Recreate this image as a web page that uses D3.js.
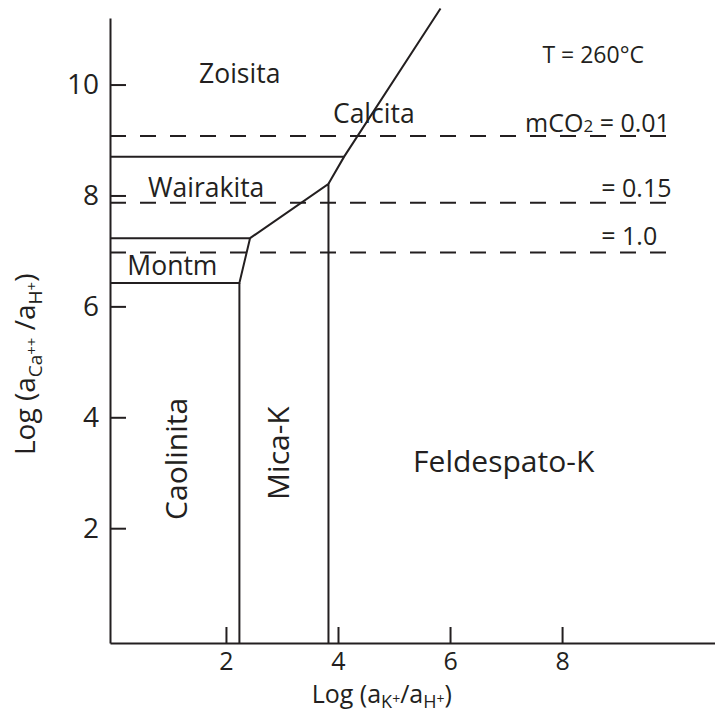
<!DOCTYPE html>
<html>
<head>
<meta charset="utf-8">
<script src="https://cdn.jsdelivr.net/npm/d3@7"></script>
<style>
  html, body { margin: 0; padding: 0; background: #fff; }
  svg { display: block; }
  text { font-family: 'Open Sans', 'Noto Sans', sans-serif; fill: #231f20; }
</style>
</head>
<body>
<svg id="chart" width="715" height="715"></svg>
<script>
// Axis extents (log activity ratios)
const xDomain = [-0.07, 10.73];
const yDomain = [-0.07, 11.2];
const xTickValues = [2, 4, 6, 8];
const yTickValues = [2, 4, 6, 8, 10];

// Phase boundaries, as polylines in (log aK+/aH+, log aCa++/aH+)
const boundaryCaolinitaMica = [[2.24, -0.07], [2.24, 6.42]];
const boundaryMontm = [[-0.07, 6.42], [2.24, 6.42], [2.43, 7.23], [-0.07, 7.23]];
const boundaryWairakitaMica = [[2.43, 7.23], [3.83, 8.21], [3.83, -0.07]];
const boundaryCalcita = [[3.83, 8.21], [4.11, 8.70], [5.83, 11.37]];
const boundaryZoisitaWairakita = [[-0.07, 8.70], [4.11, 8.70]];
const boundaries = [boundaryCaolinitaMica, boundaryMontm, boundaryWairakitaMica,
                    boundaryCalcita, boundaryZoisitaWairakita];

// Calcite saturation levels for different mCO2
const mco2Values = ["0.01", "0.15", "1.0"];
const mco2Levels = [9.07, 7.87, 6.97];
const mco2LineEnd = 9.93;

// Mineral field names
const fieldNames = ["Zoisita", "Calcita", "Wairakita", "Montm", "Caolinita", "Mica-K", "Feldespato-K"];

const ink = "#231f20";
const svg = d3.select("#chart");

const x = d3.scaleLinear().domain(xDomain).range([110, 715]);
const y = d3.scaleLinear().domain(yDomain).range([643, 18]);

// Label placement (data units) and style for each field name
const fieldLayout = {
  "Zoisita":      { at: [1.52, 10.02], size: 26.5, rotate: false },
  "Calcita":      { at: [3.91, 9.30],  size: 26.5, rotate: false },
  "Wairakita":    { at: [0.61, 7.98],  size: 26.5, rotate: false },
  "Montm":        { at: [0.24, 6.57],  size: 26.5, rotate: false },
  "Caolinita":    { at: [1.30, 2.15],  size: 30,   rotate: true },
  "Mica-K":       { at: [3.13, 2.51],  size: 30,   rotate: true },
  "Feldespato-K": { at: [5.34, 3.02],  size: 30,   rotate: false }
};

// Axes
const xAxis = d3.axisBottom(x).tickValues(xTickValues).tickFormat(d3.format("d"))
  .tickSizeInner(-16).tickSizeOuter(0).tickPadding(9);
const yAxis = d3.axisLeft(y).tickValues(yTickValues).tickFormat(d3.format("d"))
  .tickSizeInner(-16).tickSizeOuter(0).tickPadding(11);

const gx = svg.append("g").attr("transform", `translate(0,${y.range()[0]})`).call(xAxis);
const gy = svg.append("g").attr("transform", `translate(${x.range()[0]},0)`).call(yAxis);
[gx, gy].forEach(g => {
  g.select(".domain").attr("stroke", ink).attr("stroke-width", 2);
  g.selectAll(".tick line").attr("stroke", ink).attr("stroke-width", 2);
  g.selectAll(".tick text").attr("fill", ink)
    .style("font-family", "'Open Sans', sans-serif");
});
gx.selectAll(".tick text").style("font-size", "25px");
gy.selectAll(".tick text").style("font-size", "28px");

// Dashed mCO2 lines
svg.append("g").selectAll("line").data(mco2Levels).join("line")
  .attr("x1", x(xDomain[0])).attr("x2", x(mco2LineEnd))
  .attr("y1", d => y(d)).attr("y2", d => y(d))
  .attr("stroke", ink).attr("stroke-width", 2)
  .attr("stroke-dasharray", "16,14");

// Phase boundary lines
const line = d3.line().x(d => x(d[0])).y(d => y(d[1]));
svg.append("g").selectAll("path").data(boundaries).join("path")
  .attr("d", line).attr("fill", "none")
  .attr("stroke", ink).attr("stroke-width", 2).attr("stroke-linejoin", "miter");

// Field names
fieldNames.forEach(name => {
  const L = fieldLayout[name];
  const px = x(L.at[0]), py = y(L.at[1]);
  svg.append("text")
    .attr("transform", L.rotate ? `translate(${px},${py}) rotate(-90)` : `translate(${px},${py})`)
    .style("font-size", L.size + "px")
    .text(name);
});

// Temperature note
svg.append("text")
  .attr("x", x(7.65)).attr("y", y(10.39))
  .style("font-size", "23px")
  .text("T = 260°C");

// mCO2 labels
const mco2LabelAt = [[7.34, 9.15], [8.70, 7.98], [8.70, 7.10]];
mco2Values.forEach((v, i) => {
  const t = svg.append("text")
    .attr("x", x(mco2LabelAt[i][0])).attr("y", y(mco2LabelAt[i][1]))
    .style("font-size", "25px");
  if (i === 0) {
    t.append("tspan").text("mCO");
    t.append("tspan").style("font-size", "17px").text("2");
    t.append("tspan").text(" = " + v);
  } else {
    t.append("tspan").text("= " + v);
  }
});

// X axis title: Log (aK+/aH+)
const xt = svg.append("text")
  .attr("x", 311.7).attr("y", 703)
  .style("font-size", "25px");
xt.append("tspan").text("Log (a");
xt.append("tspan").attr("dy", 5).style("font-size", "18px").text("K");
xt.append("tspan").attr("dy", -4).style("font-size", "14px").text("+");
xt.append("tspan").attr("dy", -1).text("/a");
xt.append("tspan").attr("dy", 5).style("font-size", "18px").text("H");
xt.append("tspan").attr("dy", -4).style("font-size", "14px").text("+");
xt.append("tspan").attr("dy", -1).text(")");

// Y axis title: Log (aCa++/aH+)
const yt = svg.append("text")
  .attr("transform", "translate(35,455) rotate(-90)")
  .style("font-size", "28px");
yt.append("tspan").text("Log (a");
yt.append("tspan").attr("dy", 7).style("font-size", "19px").text("Ca");
yt.append("tspan").attr("dy", -5).style("font-size", "15px").text("++");
yt.append("tspan").attr("dy", -2).text(" /a");
yt.append("tspan").attr("dy", 7).style("font-size", "19px").text("H");
yt.append("tspan").attr("dy", -5).style("font-size", "15px").text("+");
yt.append("tspan").attr("dy", -2).text(")");
</script>
</body>
</html>
